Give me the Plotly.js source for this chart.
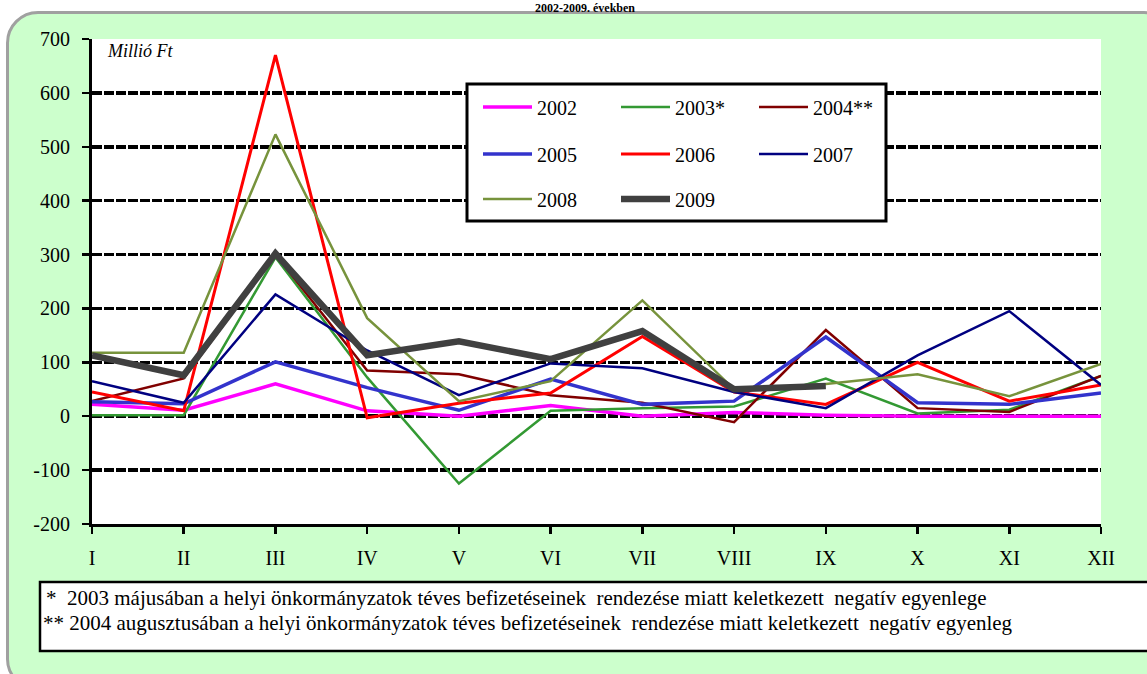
<!DOCTYPE html>
<html>
<head>
<meta charset="utf-8">
<script src="https://cdn.plot.ly/plotly-3.0.1.min.js"></script>
<style>
  html, body { margin: 0; padding: 0; background: #ffffff; overflow: hidden; }
  #frame { position: absolute; left: 6px; top: 11px; width: 1170px; height: 680px;
           background: #ccffcc; border: 3px solid #a0a0a0; border-radius: 32px; box-sizing: border-box; }
  #chart { position: absolute; left: 0; top: 0; width: 1147px; height: 674px; }
</style>
</head>
<body>
<div id="frame"></div>
<div id="chart"></div>
<script>
// ---- data ----
const months = ["I", "II", "III", "IV", "V", "VI", "VII", "VIII", "IX", "X", "XI", "XII"];
const seriesNames = ["2002", "2003*", "2004**", "2005", "2006", "2007", "2008", "2009"];
const y2002 = [22, 11, 60, 10, 0, 20, 0, 7, 2, 0, 0, 0];
const y2003 = [2, 2, 295, 72, -125, 10, 15, 18, 70, 5, 12, 75];
const y2004 = [28, 70, 300, 85, 78, 39, 25, -11, 160, 15, 8, 75];
const y2005 = [27, 23, 101, 53, 11, 69, 22, 28, 147, 25, 22, 43];
const y2006 = [45, 10, 670, -3, 24, 43, 148, 45, 22, 100, 28, 58];
const y2007 = [65, 25, 226, 122, 39, 98, 89, 45, 15, 113, 195, 58];
const y2008 = [118, 118, 523, 182, 28, 65, 215, 50, 60, 78, 37, 97];
const y2009 = [113, 76, 302, 113, 139, 106, 158, 50, 56, null, null, null];
const yTicks = [-200, -100, 0, 100, 200, 300, 400, 500, 600, 700];
const titleText = "2002-2009. években";
const unitText = "Millió Ft";
const note1 = "*  2003 májusában a helyi önkormányzatok téves befizetéseinek  rendezése miatt keletkezett  negatív egyenlege";
const note2 = "** 2004 augusztusában a helyi önkormányzatok téves befizetéseinek  rendezése miatt keletkezett  negatív egyenleg";

// ---- styling ----
const allY = [y2002, y2003, y2004, y2005, y2006, y2007, y2008, y2009];
const colors = ["#ff00ff", "#339933", "#800000", "#3333cc", "#ff0000", "#000080", "#77933c", "#404040"];
const widths = [3.5, 2.5, 2.5, 3.5, 3, 2.5, 2.5, 6.5];
const legendIds = ["legend", "legend", "legend", "legend2", "legend2", "legend2", "legend3", "legend3"];

// pixel geometry of the plot area
const L = 92, R = 1101, T = 39, B = 524, W = 1147, H = 674;
const px = x => (x - L) / (R - L);
const py = y => (B - y) / (B - T);

const serif = "Liberation Serif, Times New Roman, serif";

const traces = allY.map((ys, i) => ({
  type: "scatter",
  mode: "lines",
  name: seriesNames[i],
  x: months,
  y: ys,
  line: { color: colors[i], width: widths[i] },
  legend: legendIds[i],
  hoverinfo: "skip"
}));

const legendCommon = {
  orientation: "h",
  bgcolor: "rgba(0,0,0,0)",
  borderwidth: 0,
  font: { family: serif, size: 20, color: "#000" },
  entrywidth: 74,
  entrywidthmode: "pixels",
  itemwidth: 49,
  xanchor: "left",
  yanchor: "middle",
  itemclick: false,
  itemdoubleclick: false
};

const layout = {
  width: W, height: H,
  margin: { l: L, r: W - R, t: T, b: H - B },
  paper_bgcolor: "rgba(0,0,0,0)",
  plot_bgcolor: "#ffffff",
  showlegend: true,
  font: { family: serif, size: 20, color: "#000" },
  xaxis: {
    type: "category",
    categoryorder: "array",
    categoryarray: months,
    range: [0, months.length - 1],
    showgrid: false,
    zeroline: false,
    showline: true, linecolor: "#000", linewidth: 3,
    ticks: "outside", ticklen: 7, tickwidth: 2.5, tickcolor: "#000",
    ticklabelstandoff: 7,
    tickfont: { family: serif, size: 20, color: "#000" },
    fixedrange: true
  },
  yaxis: {
    range: [-200, 700],
    tickvals: yTicks,
    ticktext: yTicks.map(String),
    showgrid: true, gridcolor: "#000", gridwidth: 3.5, griddash: "10px,2px",
    zeroline: false,
    showline: true, linecolor: "#000", linewidth: 3,
    ticks: "outside", ticklen: 7, tickwidth: 2.5, tickcolor: "#000",
    ticklabelstandoff: 8,
    tickfont: { family: serif, size: 20, color: "#000" },
    fixedrange: true
  },
  legend: Object.assign({}, legendCommon, { x: px(478), y: py(107) }),
  legend2: Object.assign({}, legendCommon, { x: px(478), y: py(154) }),
  legend3: Object.assign({}, legendCommon, { x: px(478), y: py(199) }),
  shapes: [
    { type: "rect", xref: "paper", yref: "paper", x0: px(467), x1: px(886), y0: py(221), y1: py(84),
      fillcolor: "#ffffff", line: { color: "#000", width: 3 }, layer: "above" },
    { type: "rect", xref: "paper", yref: "paper", x0: px(40), x1: px(1170), y0: py(651), y1: py(582),
      fillcolor: "#ffffff", line: { color: "#000", width: 2.5 }, layer: "above" }
  ],
  annotations: [
    { text: titleText, xref: "paper", yref: "paper", x: px(585), y: py(0), xanchor: "center", yanchor: "top",
      showarrow: false, borderpad: 0, font: { family: serif, size: 12, color: "#000", weight: "bold" } },
    { text: "<i>" + unitText + "</i>", xref: "paper", yref: "paper", x: px(105), y: py(51), xanchor: "left", yanchor: "middle",
      showarrow: false, font: { family: serif, size: 18, color: "#000" } },
    { text: note1.replace(/  /g, " \u00a0"), xref: "paper", yref: "paper", x: px(44), y: py(598), xanchor: "left", yanchor: "middle",
      showarrow: false, font: { family: serif, size: 21, color: "#000" } },
    { text: note2.replace(/  /g, " \u00a0"), xref: "paper", yref: "paper", x: px(41), y: py(623), xanchor: "left", yanchor: "middle",
      showarrow: false, font: { family: serif, size: 21, color: "#000" } }
  ]
};

Plotly.newPlot("chart", traces, layout, { staticPlot: true, displayModeBar: false });
</script>
</body>
</html>
